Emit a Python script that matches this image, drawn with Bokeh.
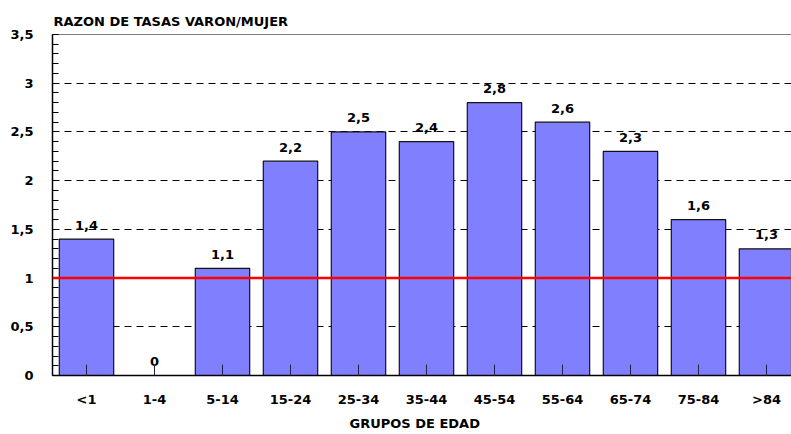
from bokeh.plotting import figure
from bokeh.models import (Range1d, FixedTicker, CustomJSTickFormatter, Span, Title,
                          ColumnDataSource)
from bokeh.core.properties import value
from bokeh.embed import file_html
from bokeh.resources import INLINE

# ---- data ----
categories = ["<1", "1-4", "5-14", "15-24", "25-34", "35-44", "45-54", "55-64", "65-74", "75-84", ">84"]
ratios = [1.4, 0.0, 1.1, 2.2, 2.5, 2.4, 2.8, 2.6, 2.3, 1.6, 1.3]
y_ticks = [0, 0.5, 1, 1.5, 2, 2.5, 3, 3.5]
reference_level = 1.0
title_text = "RAZON DE TASAS VARON/MUJER"
x_label = "GRUPOS DE EDAD"

FONT = "DejaVu Sans"
FS = "13px"

xs = [i + 0.5 for i in range(len(categories))]
labels = [("0" if v == 0 else f"{v:.1f}".replace(".", ",")) for v in ratios]
src = ColumnDataSource(dict(x=xs, top=ratios, lab=labels, cat=categories))

p = figure(width=791, height=434, output_backend="svg", toolbar_location=None,
           x_range=Range1d(0, 10.868), y_range=Range1d(0, 3.5),
           min_border_left=52, min_border_right=0, min_border_top=34, min_border_bottom=59)
p.outline_line_color = None
p.background_fill_color = "white"
p.border_fill_color = "white"

# title
p.title.text = title_text
p.title.align = "left"
p.title.offset = 1
p.title.standoff = 12
p.title.text_font = FONT
p.title.text_font_size = FS
p.title.text_font_style = "bold"
p.title.text_color = "black"

# grid
p.xgrid.visible = False
p.ygrid.grid_line_color = "black"
p.ygrid.grid_line_dash = "7 5"
p.ygrid.grid_line_width = 1

# bars
p.vbar(x="x", top="top", width=0.8, bottom=0, source=src,
       fill_color="#8080FF", line_color="#111111", line_width=1.2)

# value labels
p.text(x="x", y="top", text="lab", source=src, text_align="center",
       text_baseline="alphabetic", y_offset=-14,
       text_font=value(FONT), text_font_size=FS, text_font_style="bold",
       text_color="black")

# reference line
p.add_layout(Span(location=reference_level, dimension="width", line_color="#FF0000", line_width=2.5))
p.add_layout(Span(location=y_ticks[-1], dimension="width", line_color="black", line_width=1))

# x axis
xa = p.xaxis[0]
xa.ticker = FixedTicker(ticks=xs)
xa.formatter = CustomJSTickFormatter(args=dict(labels=categories),
                                     code="return labels[Math.floor(tick)];")
xa.major_tick_in = 11
xa.major_tick_out = 0
xa.minor_tick_in = 0
xa.minor_tick_out = 0
xa.major_tick_line_color = "#222244"
xa.axis_line_color = "black"
xa.axis_line_width = 1.5
xa.major_label_standoff = 16
xa.major_label_text_font = FONT
xa.major_label_text_font_size = FS
xa.major_label_text_font_style = "bold"
xa.major_label_text_color = "black"

# x axis label as a title below the axis, offset to match
p.add_layout(Title(text=x_label, align="left", offset=297, standoff=8,
                   text_font=FONT, text_font_size=FS, text_font_style="bold",
                   text_color="black"), "below")

# y axis
ya = p.yaxis[0]
minor = [round(i * 0.1, 1) for i in range(0, 36)]
ya.ticker = FixedTicker(ticks=y_ticks, minor_ticks=minor)
ya.formatter = CustomJSTickFormatter(code="return String(tick).replace('.', ',');")
ya.major_tick_in = 6
ya.major_tick_out = 0
ya.minor_tick_in = 6
ya.minor_tick_out = 0
ya.major_tick_line_color = "black"
ya.minor_tick_line_color = "black"
ya.axis_line_color = "black"
ya.axis_line_width = 1.5
ya.major_label_standoff = 19
ya.major_label_text_font = FONT
ya.major_label_text_font_size = FS
ya.major_label_text_font_style = "bold"
ya.major_label_text_color = "black"

open("out.html", "w").write(file_html(p, INLINE))
